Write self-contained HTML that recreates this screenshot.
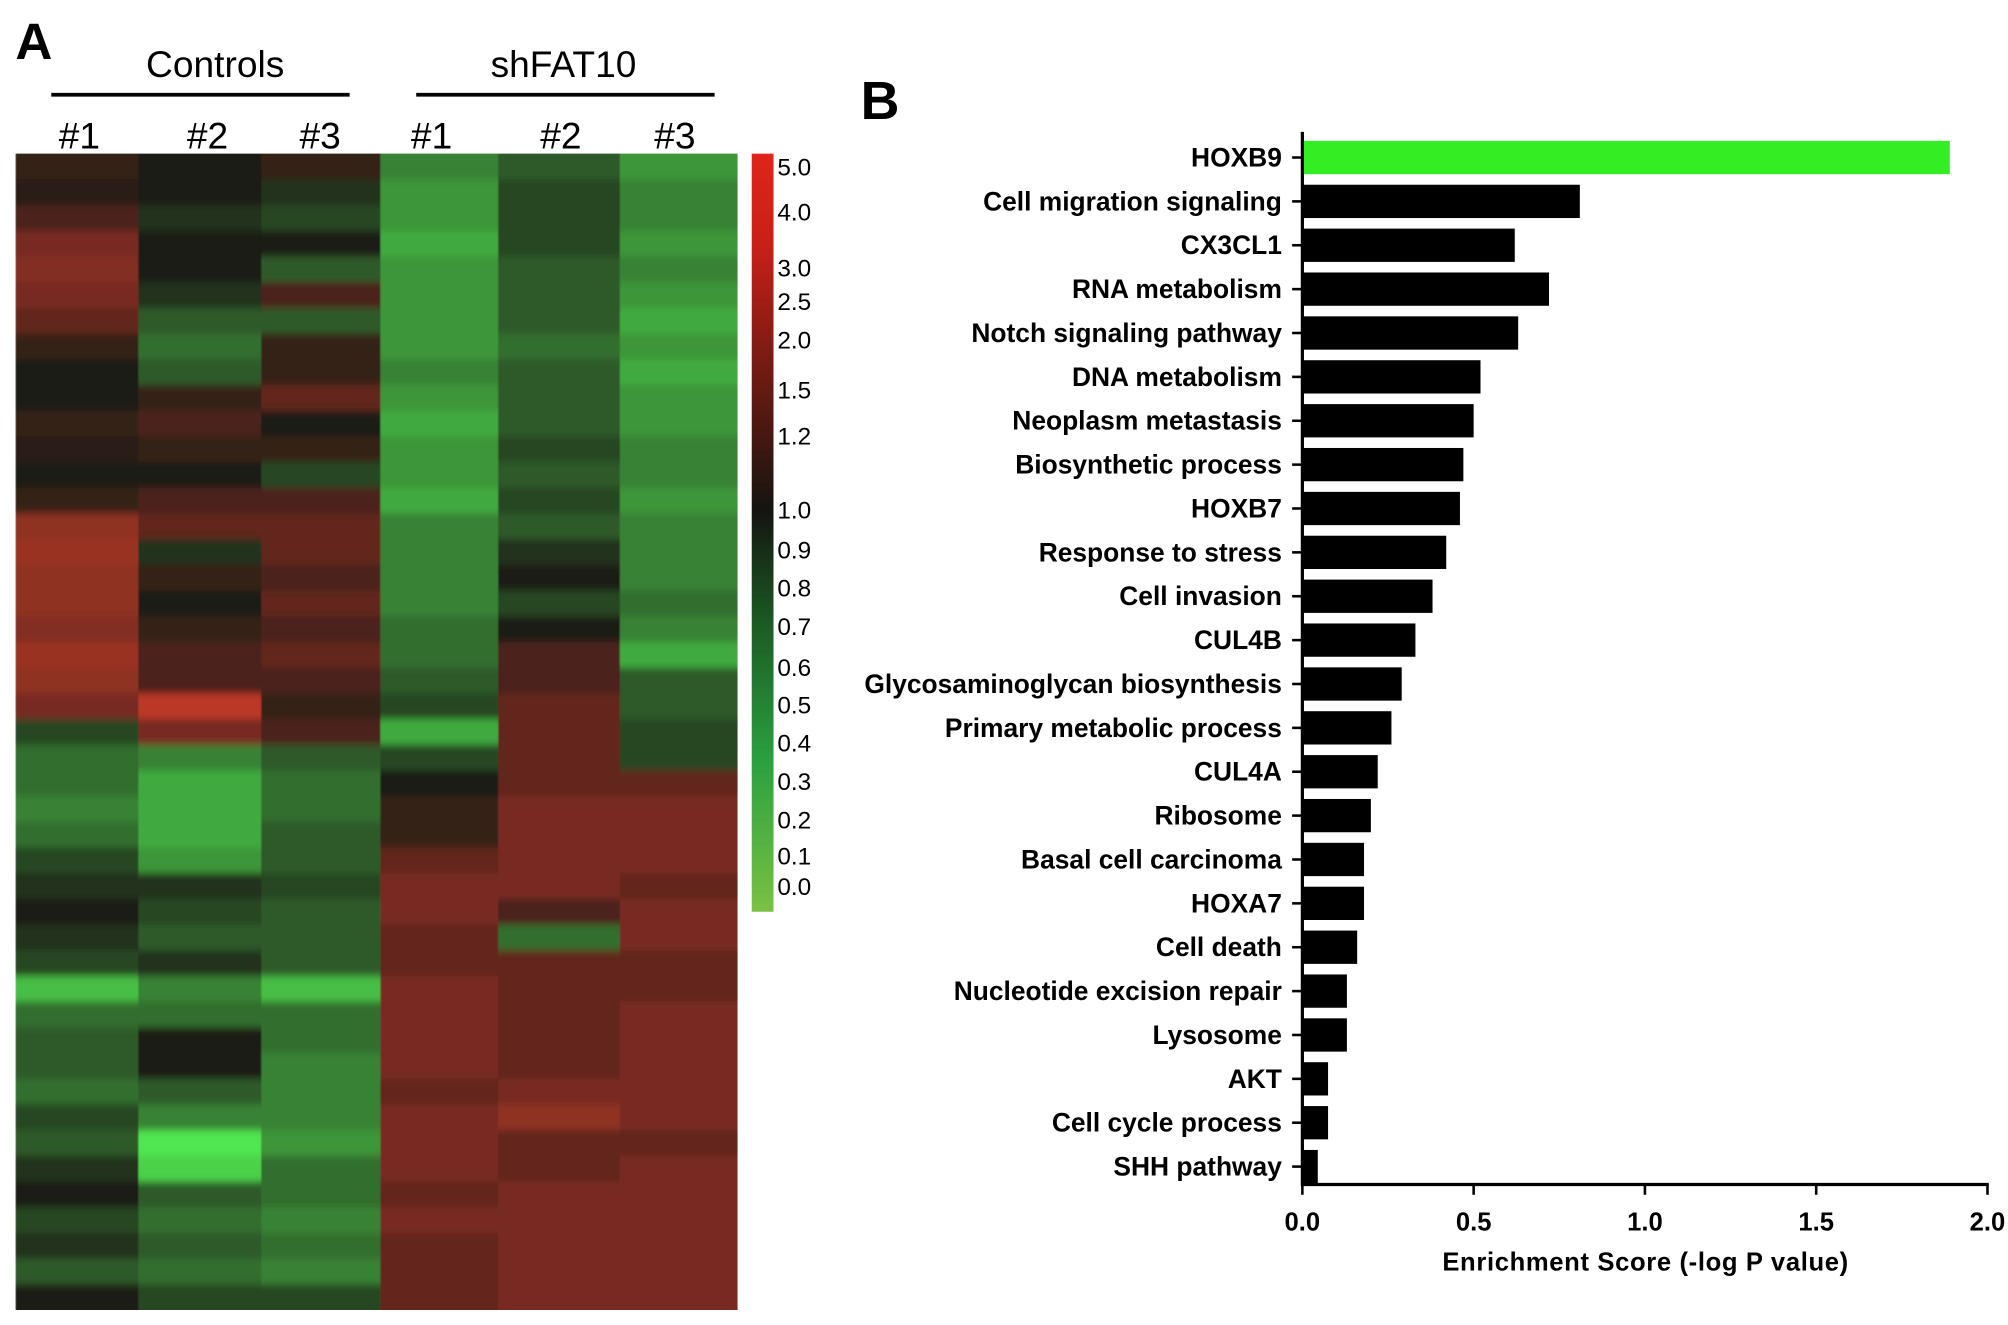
<!DOCTYPE html>
<html><head><meta charset="utf-8"><style>
html,body{margin:0;padding:0;background:#fff;}
svg{display:block;font-family:"Liberation Sans",Arial,sans-serif;}
</style></head><body>
<svg id="fig" width="2008" height="1325" viewBox="0 0 1568 1034.7" xmlns="http://www.w3.org/2000/svg">
<defs>
<filter id="blurv" x="0" y="0" width="1" height="1"><feGaussianBlur stdDeviation="0.6 3"/></filter>
<clipPath id="hclip"><rect x="12" y="120" width="564" height="903"/></clipPath>
</defs>
<g id="panelA"></g>
<g id="panelB"></g>
</svg>
<script>
// ---- Panel A data ----
const heatColumns = ["Ctrl #1","Ctrl #2","Ctrl #3","shFAT10 #1","shFAT10 #2","shFAT10 #3"];
const heatCol1 = [0.1,0.05,0.2,0.4,0.45,0.4,0.3,0.1,0,0,0.1,0.05,0,0.1,0.5,0.55,0.5,0.5,0.45,0.55,0.5,0.4,-0.2,-0.4,-0.4,-0.5,-0.4,-0.2,-0.1,0,-0.1,-0.2,-0.8,-0.4,-0.3,-0.3,-0.4,-0.2,-0.3,-0.1,0,-0.2,-0.1,-0.3,0];
const heatCol2 = [0,0,-0.1,0,0,-0.1,-0.3,-0.4,-0.3,0.1,0.2,0.1,0,0.2,0.3,-0.1,0.1,0,0.1,0.2,0.2,0.7,0.4,-0.5,-0.7,-0.7,-0.7,-0.6,-0.1,-0.2,-0.3,-0.1,-0.5,-0.4,0,0,-0.3,-0.5,-1,-0.9,-0.3,-0.4,-0.3,-0.4,-0.2];
const heatCol3 = [0.1,-0.1,-0.2,0,-0.3,0.2,-0.3,0.1,0.1,0.3,0,0.1,-0.2,0.2,0.3,0.3,0.2,0.3,0.2,0.3,0.2,0.1,0.2,-0.3,-0.4,-0.4,-0.3,-0.3,-0.2,-0.3,-0.3,-0.3,-0.8,-0.4,-0.4,-0.5,-0.5,-0.5,-0.6,-0.4,-0.4,-0.5,-0.4,-0.5,-0.2];
const heatCol4 = [-0.5,-0.6,-0.6,-0.7,-0.6,-0.6,-0.6,-0.6,-0.5,-0.6,-0.7,-0.6,-0.6,-0.7,-0.5,-0.5,-0.5,-0.5,-0.4,-0.4,-0.3,-0.2,-0.7,-0.2,0,0.1,0.1,0.3,0.4,0.4,0.3,0.3,0.4,0.4,0.4,0.4,0.3,0.4,0.4,0.4,0.3,0.4,0.3,0.3,0.3];
const heatCol5 = [-0.3,-0.2,-0.2,-0.2,-0.3,-0.3,-0.3,-0.4,-0.3,-0.3,-0.3,-0.2,-0.3,-0.2,-0.3,-0.1,0,-0.2,0,0.2,0.2,0.3,0.3,0.3,0.3,0.4,0.4,0.4,0.4,0.2,-0.4,0.3,0.3,0.3,0.3,0.3,0.4,0.5,0.3,0.3,0.4,0.4,0.4,0.4,0.4];
const heatCol6 = [-0.6,-0.5,-0.5,-0.6,-0.5,-0.6,-0.7,-0.6,-0.7,-0.6,-0.6,-0.5,-0.5,-0.6,-0.5,-0.5,-0.5,-0.4,-0.5,-0.7,-0.3,-0.3,-0.2,-0.2,0.3,0.4,0.4,0.4,0.3,0.4,0.4,0.3,0.3,0.4,0.4,0.4,0.4,0.4,0.3,0.4,0.4,0.4,0.4,0.4,0.4];
const colorbarLabels = ["5.0","4.0","3.0","2.5","2.0","1.5","1.2","1.0","0.9","0.8","0.7","0.6","0.5","0.4","0.3","0.2","0.1","0.0"];
const colorbarValues = [5.0,4.0,3.0,2.5,2.0,1.5,1.2,1.0,0.9,0.8,0.7,0.6,0.5,0.4,0.3,0.2,0.1,0.0];
// ---- Panel B data ----
const categories = ["HOXB9","Cell migration signaling","CX3CL1","RNA metabolism","Notch signaling pathway","DNA metabolism","Neoplasm metastasis","Biosynthetic process","HOXB7","Response to stress","Cell invasion","CUL4B","Glycosaminoglycan biosynthesis","Primary metabolic process","CUL4A","Ribosome","Basal cell carcinoma","HOXA7","Cell death","Nucleotide excision repair","Lysosome","AKT","Cell cycle process","SHH pathway"];
const scores = [1.89,0.81,0.62,0.72,0.63,0.52,0.50,0.47,0.46,0.42,0.38,0.33,0.29,0.26,0.22,0.20,0.18,0.18,0.16,0.13,0.13,0.075,0.075,0.045];
const xTicks = [0,0.5,1.0,1.5,2.0];
const xTickLabels = ["0.0","0.5","1.0","1.5","2.0"];

const NS="http://www.w3.org/2000/svg";
function mk(parent,tag,attrs,text){const e=document.createElementNS(NS,tag);for(const k in attrs)e.setAttribute(k,attrs[k]);if(text!==undefined)e.textContent=text;parent.appendChild(e);return e;}
const A=document.getElementById('panelA'), B=document.getElementById('panelB');

function heatColor(v){
  v=Math.max(-1,Math.min(1,v));
  if(v>=0){return `rgb(${Math.round(30+225*v)},${Math.round(28+40*v)},${Math.round(22+25*v)})`;}
  const g=-v;return `rgb(${Math.round(30+50*g)},${Math.round(30+200*g)},${Math.round(24+55*g)})`;
}
// heatmap
const hy0=120,hy1=1023;
const colEdges=[12,108,204,297,389,484,576];
const cols=[heatCol1,heatCol2,heatCol3,heatCol4,heatCol5,heatCol6];
const hc=mk(A,'g',{'clip-path':'url(#hclip)'});
const hg=mk(hc,'g',{filter:'url(#blurv)'});


cols.forEach((col,ci)=>{
  const rh=(hy1-hy0)/col.length;
  col.forEach((v,ri)=>{
    let yy=hy0+ri*rh, hh=rh+0.5;
    if(ri===0){yy-=8;hh+=8;}
    if(ri===col.length-1){hh+=8;}
    const r=mk(hg,'rect',{x:colEdges[ci],y:yy,width:colEdges[ci+1]-colEdges[ci]+0.5,height:hh,fill:heatColor(v)});
    
    
  });
});
// headers
let t;
t=mk(A,'text',{x:12,y:46,'font-size':40,'font-weight':'bold'},'A');
t=mk(A,'text',{x:168,y:60,'font-size':29,'text-anchor':'middle'},'Controls');
t=mk(A,'text',{x:440,y:60,'font-size':29,'text-anchor':'middle'},'shFAT10');
t=mk(A,'line',{x1:40,x2:273,y1:74,y2:74,stroke:'#000','stroke-width':3});
t=mk(A,'line',{x1:325,x2:558,y1:74,y2:74,stroke:'#000','stroke-width':3});
[[62,'#1'],[162,'#2'],[250,'#3'],[337,'#1'],[438,'#2'],[527,'#3']].forEach(([x,s])=>{
  const e=mk(A,'text',{x:x,y:116,'font-size':29,'text-anchor':'middle'},s);
  
  
});
// colorbar
const defs=document.querySelector('defs');
const lg=mk(defs,'linearGradient',{id:'cb',x1:0,y1:0,x2:0,y2:1});
[[0,'#e0241a'],[0.12,'#c82018'],[0.3,'#6a1a12'],[0.47,'#141410'],[0.62,'#1c5a24'],[0.8,'#2aa040'],[1,'#7ac143']].forEach(([o,c])=>mk(lg,'stop',{offset:o,'stop-color':c}));
t=mk(A,'rect',{x:587,y:120,width:17,height:592,fill:'url(#cb)'});
const cbY=[130,165,209,235,265,304,340,398,429,459,489,521,550,580,610,640,668,692];
colorbarLabels.forEach((s,i)=>{
  const e=mk(A,'text',{x:607,y:cbY[i]+7,'font-size':19},s);
  
  
});

// Panel B
const ax0=1017, pxPerUnit=(1552-1017)/2;
const xs=v=>ax0+v*pxPerUnit;
const y0=123, step=(911-123)/23, bh=26;
const ys=i=>y0+i*step;
t=mk(B,'text',{x:672,y:93,'font-size':42,'font-weight':'bold'},'B');
scores.forEach((v,i)=>{
  const r=mk(B,'rect',{x:xs(0),y:ys(i)-bh/2,width:xs(v)-xs(0),height:bh,fill:i===0?'#33ee22':'#000'});
  
  
  const tk=mk(B,'line',{x1:1009,x2:ax0,y1:ys(i),y2:ys(i),stroke:'#000','stroke-width':2});
  
  
  const l=mk(B,'text',{x:1001,y:ys(i)+7,'font-size':20.6,'font-weight':'bold','text-anchor':'end'},categories[i]);
  
  
});
t=mk(B,'line',{x1:ax0,x2:ax0,y1:103,y2:926,stroke:'#000','stroke-width':2.5});
t=mk(B,'line',{x1:ax0-1,x2:1553,y1:925,y2:925,stroke:'#000','stroke-width':2.5});
xTicks.forEach((v,i)=>{
  const tk=mk(B,'line',{x1:xs(v),x2:xs(v),y1:925,y2:933,stroke:'#000','stroke-width':2});
  
  
  const l=mk(B,'text',{x:xs(v),y:961,'font-size':20,'font-weight':'bold','text-anchor':'middle'},xTickLabels[i]);
  
  
});
t=mk(B,'text',{x:1285,y:992,'font-size':20,'font-weight':'bold','text-anchor':'middle','letter-spacing':'0.5'},'Enrichment Score (-log P value)');
</script>
</body></html>
